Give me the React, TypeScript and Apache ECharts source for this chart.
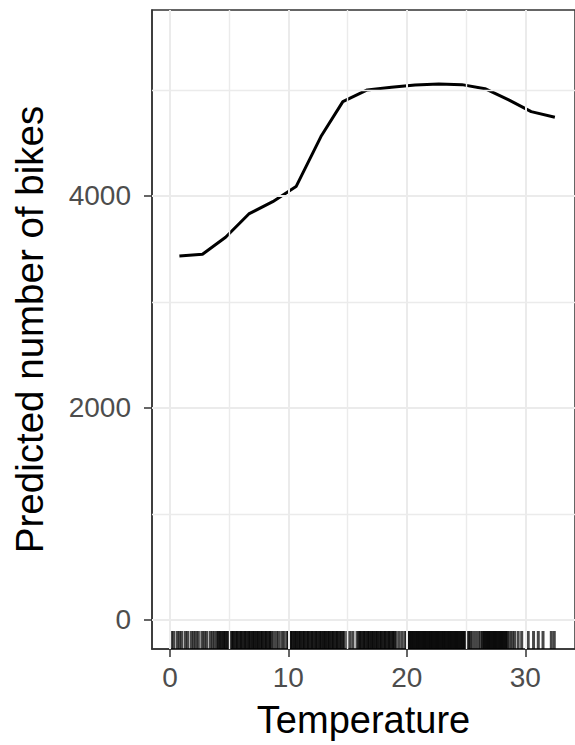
import React, { useEffect, useRef } from "react";
import * as echarts from "echarts";

// Partial dependence curve
const pdpTemp = [0.8, 2.75, 4.7, 6.66, 8.68, 10.65, 12.75, 14.6, 16.66, 18.7, 20.7, 22.7, 24.65, 26.6, 28.6, 30.5, 32.5];
const pdpPred = [3434, 3450, 3610, 3830, 3946, 4088, 4560, 4890, 5000, 5025, 5047, 5057, 5050, 5012, 4906, 4795, 4742];

// Observed temperatures (rug)
const rugTemp = [
  0.1, 0.3, 0.6, 0.8, 1.0, 1.3, 1.5, 1.8, 2.0, 2.2, 2.4, 2.7, 2.9, 3.1, 3.4, 3.6, 3.8,
  4.0, 4.1, 4.25, 4.35, 4.5, 4.6, 4.7, 4.85, 4.95, 5.05, 5.2, 5.3, 5.4, 5.55, 5.65, 5.75, 5.9, 6.0, 6.1, 6.25, 6.35, 6.45,
  6.6, 6.7, 6.8, 6.95, 7.05, 7.15, 7.3, 7.4, 7.5, 7.65, 7.75, 7.85, 8.0, 8.1, 8.2, 8.35, 8.45, 8.55,
  8.75, 9.0, 9.2, 9.45, 9.65,
  9.9, 10.0, 10.15, 10.25, 10.35, 10.5, 10.6, 10.7, 10.85, 10.95, 11.05, 11.2, 11.3, 11.4, 11.55, 11.65, 11.75, 11.9,
  12.0, 12.1, 12.25, 12.35, 12.45, 12.6, 12.7, 12.8, 12.95, 13.05, 13.15, 13.3, 13.4, 13.5, 13.65, 13.75, 13.85, 14.0,
  14.1, 14.2, 14.35, 14.45, 14.6, 14.7,
  14.95, 15.2, 15.45,
  15.8, 15.95, 16.05, 16.15, 16.3, 16.4, 16.5, 16.65, 16.75, 16.85, 17.0, 17.1, 17.2, 17.35, 17.45, 17.55, 17.7, 17.8,
  17.9, 18.05, 18.15, 18.25, 18.4, 18.5, 18.6, 18.75, 18.85, 18.95, 19.1,
  19.35, 19.6, 19.85,
  20.0, 20.1, 20.2, 20.3, 20.4, 20.5, 20.6, 20.7, 20.8, 20.9, 21.0, 21.1, 21.2, 21.3, 21.4, 21.5, 21.6, 21.7, 21.8, 21.9,
  22.0, 22.1, 22.2, 22.3, 22.4, 22.5, 22.6, 22.7, 22.8, 22.9, 23.0, 23.1, 23.2, 23.3, 23.4, 23.5, 23.6, 23.7, 23.8, 23.9,
  24.0, 24.1, 24.2, 24.3, 24.4, 24.5, 24.6, 24.7, 24.8, 24.9, 25.0, 25.1, 25.25, 25.35,
  25.55, 25.8, 26.05, 26.25,
  26.4, 26.5, 26.6, 26.7, 26.8, 26.9, 27.0, 27.1, 27.2, 27.3, 27.4, 27.5, 27.6, 27.7, 27.8, 27.9, 28.0, 28.1, 28.2, 28.3,
  28.4, 28.5,
  28.7, 28.9, 29.1, 29.4, 29.7, 30.25, 30.7, 31.1, 31.5, 32.2, 32.45,
];

const xMajor = [0, 10, 20, 30];
const xMinor = [5, 15, 25];
const yMajor = [0, 2000, 4000];
const yMinor = [1000, 3000, 5000];

const X_MIN = -1.513;
const X_MAX = 34.2;
const Y_MIN = -274;
const Y_MAX = 5754;
const RUG_TOP = -104;

const FONT = "'Liberation Sans', Arial, Helvetica, sans-serif";

export default function App() {
  const ref = useRef<HTMLDivElement>(null);

  useEffect(() => {
    if (!ref.current) return;
    const chart = echarts.init(ref.current, undefined, { renderer: "svg" });

    const gridLine = (vals: number[], key: "xAxis" | "yAxis", width: number) =>
      vals.map((v) => ({ [key]: v, lineStyle: { color: "#ebebeb", width, type: "solid" } }));

    chart.setOption({
      animation: false,
      backgroundColor: "#ffffff",
      textStyle: { fontFamily: FONT },
      grid: {
        left: 152,
        top: 10,
        right: -2,
        bottom: 96,
        show: true,
        borderColor: "#333333",
        borderWidth: 1.5,
        backgroundColor: "transparent",
        containLabel: false,
      },
      xAxis: {
        type: "value",
        min: X_MIN,
        max: X_MAX,
        name: "Temperature",
        nameLocation: "middle",
        nameGap: 52,
        nameTextStyle: { color: "#000000", fontSize: 38, fontFamily: FONT },
        axisLine: { show: true, onZero: false, lineStyle: { color: "#333333", width: 1.5 } },
        axisTick: { show: true, length: 8, customValues: xMajor, lineStyle: { color: "#333333", width: 1.5 } },
        axisLabel: {
          customValues: xMajor,
          margin: 14,
          color: "#4d4d4d",
          fontSize: 28,
          fontFamily: FONT,
          formatter: (v: number) => String(v),
        },
        splitLine: { show: false },
      },
      yAxis: {
        type: "value",
        min: Y_MIN,
        max: Y_MAX,
        name: "Predicted number of bikes",
        nameLocation: "middle",
        nameGap: 103,
        nameRotate: 90,
        nameTextStyle: { color: "#000000", fontSize: 38.5, fontFamily: FONT },
        axisLine: { show: true, onZero: false, lineStyle: { color: "#333333", width: 1.5 } },
        axisTick: { show: true, length: 8, customValues: yMajor, lineStyle: { color: "#333333", width: 1.5 } },
        axisLabel: {
          customValues: yMajor,
          margin: 21,
          color: "#4d4d4d",
          fontSize: 28,
          fontFamily: FONT,
          formatter: (v: number) => String(v),
        },
        splitLine: { show: false },
      },
      series: [
        {
          type: "line",
          z: 0,
          data: [],
          silent: true,
          markLine: {
            silent: true,
            symbol: ["none", "none"],
            label: { show: false },
            animation: false,
            data: [
              ...gridLine(yMinor, "yAxis", 1.4),
              ...gridLine(xMinor, "xAxis", 1.4),
              ...gridLine(yMajor, "yAxis", 2),
              ...gridLine(xMajor, "xAxis", 2),
            ],
          },
        },
        {
          type: "custom",
          z: 2,
          silent: true,
          data: rugTemp.map((t) => [t]),
          renderItem: (params: any, api: any) => {
            const x = api.value(0);
            const p1 = api.coord([x, Y_MIN]);
            const p2 = api.coord([x, RUG_TOP]);
            return {
              type: "line",
              shape: { x1: p1[0], y1: p1[1], x2: p2[0], y2: p2[1] },
              style: { stroke: "rgba(0,0,0,0.72)", lineWidth: 3 },
            };
          },
        },
        {
          type: "line",
          z: 3,
          data: pdpTemp.map((t, i) => [t, pdpPred[i]]),
          showSymbol: false,
          symbol: "none",
          lineStyle: { color: "#000000", width: 3 },
          silent: true,
        },
      ],
    });

    return () => chart.dispose();
  }, []);

  return (
    <div
      ref={ref}
      style={{ position: "fixed", left: 0, top: 0, width: 575, height: 745, background: "#fff" }}
    />
  );
}
